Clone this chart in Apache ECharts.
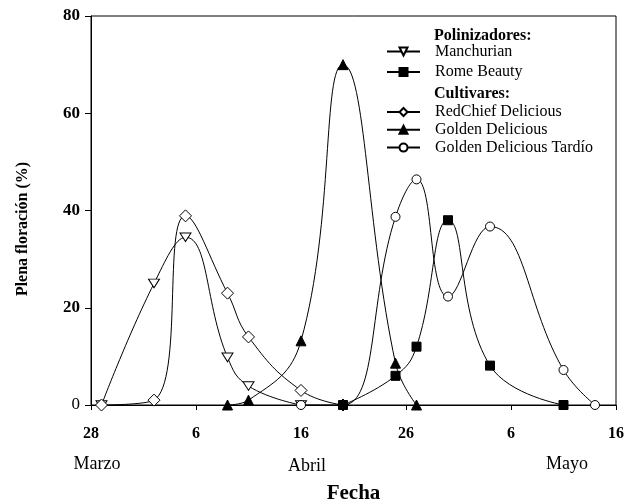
<!DOCTYPE html>
<html><head><meta charset="utf-8">
<script src="https://cdn.jsdelivr.net/npm/echarts@6/dist/echarts.min.js"></script>
<style>html,body{margin:0;padding:0;background:#fff}#c{width:626px;height:502px}</style>
</head><body><div id="c"></div><script>
// x is measured in "tick units": each labelled tick is 10 units apart
const xTickLabels = ['28','6','16','26','6','16'];
const monthLabels = ['Marzo','Abril','Mayo'];
const seriesNames = ['Manchurian','Rome Beauty','RedChief Delicious','Golden Delicious','Golden Delicious Tard\u00edo'];

const manchurianX = [1, 6, 9, 13, 15, 20];
const manchurianY = [0, 25, 34.5, 9.8, 3.9, 0];

const romeX = [24, 29, 31, 34, 38, 45];
const romeY = [0, 6, 12, 38, 8.1, 0];

const redChiefX = [1, 6, 9, 13, 15, 20, 24];
const redChiefY = [0, 1, 38.9, 23, 14, 3, 0];

const goldenX = [13, 15, 20, 24, 29, 31];
const goldenY = [0, 1, 13.2, 70, 8.6, 0];

const tardioX = [20, 24, 29, 31, 34, 38, 45, 48];
const tardioY = [0, 0, 38.7, 46.4, 22.3, 36.7, 7.2, 0];

const zip = (xs, ys) => xs.map((x, i) => [x, ys[i]]);
const FONT = '"Liberation Serif", "Times New Roman", serif';
const SMOOTH = 0.45;

function lineSeries(name, data, symbol, size, filled, extra) {
  return Object.assign({
    name, type: 'line', data, smooth: SMOOTH, symbol, symbolSize: size,
    showAllSymbol: true, clip: true,
    lineStyle: { color: '#000', width: 1 },
    itemStyle: { color: filled ? '#000' : '#fff', borderColor: '#000', borderWidth: 1, opacity: 1 },
    emphasis: { disabled: true }
  }, extra || {});
}

const downTri = 'path://M0,0L2,0L1,1.732Z';

const chart = echarts.init(document.getElementById('c'));
chart.setOption({
  animation: false,
  backgroundColor: '#fff',
  grid: {
    left: 91, right: 10, top: 16, bottom: 97, containLabel: false, outerBoundsMode: 'none',
    show: true, borderColor: '#000', borderWidth: 1, backgroundColor: 'transparent'
  },
  xAxis: {
    type: 'value', min: 0, max: 50, interval: 10,
    axisLine: { show: true, onZero: false, lineStyle: { color: '#000', width: 1 } },
    axisTick: { show: true, length: 5, lineStyle: { color: '#000' } },
    splitLine: { show: false },
    axisLabel: {
      margin: 21, color: '#000', fontFamily: FONT, fontSize: 16, fontWeight: 'bold',
      formatter: v => xTickLabels[Math.round(v / 10)]
    },
    name: 'Fecha', nameLocation: 'middle', nameGap: 78,
    nameTextStyle: { color: '#000', fontFamily: FONT, fontSize: 21, fontWeight: 'bold' }
  },
  yAxis: {
    type: 'value', min: 0, max: 80, interval: 20,
    axisLine: { show: true, lineStyle: { color: '#000', width: 1 } },
    axisTick: { show: true, length: 6, lineStyle: { color: '#000' } },
    splitLine: { show: false },
    axisLabel: {
      margin: 11, color: '#000', fontFamily: FONT, fontSize: 17,
      formatter: v => v === 0 ? '{n|0}' : '{b|' + v + '}',
      rich: {
        n: { fontFamily: FONT, fontSize: 17, fontWeight: 'normal', color: '#000' },
        b: { fontFamily: FONT, fontSize: 17, fontWeight: 'bold', color: '#000' }
      }
    }
  },
  legend: [
    {
      data: [seriesNames[0], seriesNames[1]], orient: 'vertical', left: 386, top: 43.5, padding: 0,
      itemWidth: 33, itemHeight: 10, itemGap: 4.5,
      textStyle: { fontFamily: FONT, fontSize: 16, color: '#000', padding: [0, 0, 0, 10] },
      selectedMode: false
    },
    {
      data: [seriesNames[2], seriesNames[3], seriesNames[4]], orient: 'vertical', left: 386, top: 104, padding: 0,
      itemWidth: 33, itemHeight: 10, itemGap: 1.8,
      textStyle: { fontFamily: FONT, fontSize: 16, color: '#000', padding: [0, 0, 0, 10] },
      selectedMode: false
    }
  ],
  graphic: [
    { type: 'text', left: 434, top: 28, style: { text: 'Polinizadores:', font: 'bold 16px ' + FONT, fill: '#000' } },
    { type: 'text', left: 434, top: 86, style: { text: 'Cultivares:', font: 'bold 16px ' + FONT, fill: '#000' } },
    { type: 'text', x: 97, y: 464, style: { text: monthLabels[0], font: '18px ' + FONT, fill: '#000', align: 'center', verticalAlign: 'middle' } },
    { type: 'text', x: 307, y: 466, style: { text: monthLabels[1], font: '18px ' + FONT, fill: '#000', align: 'center', verticalAlign: 'middle' } },
    { type: 'text', x: 567, y: 464, style: { text: monthLabels[2], font: '18px ' + FONT, fill: '#000', align: 'center', verticalAlign: 'middle' } },
    { type: 'text', x: 23, y: 229, rotation: Math.PI / 2, style: { text: 'Plena floraci\u00f3n (%)', font: 'bold 16px ' + FONT, fill: '#000', align: 'center', verticalAlign: 'middle' } }
  ],
  series: [
    lineSeries(seriesNames[0], zip(manchurianX, manchurianY), downTri, [11, 10], false, { symbolKeepAspect: true }),
    lineSeries(seriesNames[3], zip(goldenX, goldenY), 'triangle', 10, true),
    lineSeries(seriesNames[2], zip(redChiefX, redChiefY), 'diamond', 12, false),
    lineSeries(seriesNames[4], zip(tardioX, tardioY), 'circle', 9, false),
    lineSeries(seriesNames[1], zip(romeX, romeY), 'rect', 9, true)
  ]
});
</script></body></html>
